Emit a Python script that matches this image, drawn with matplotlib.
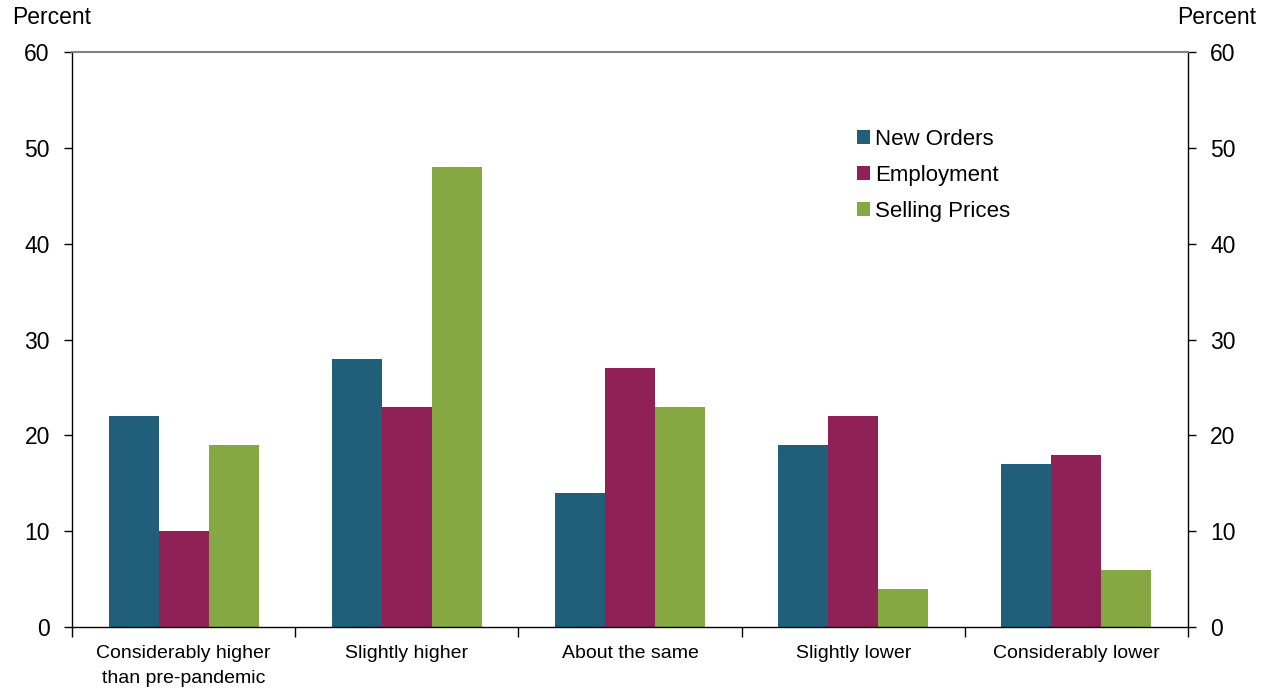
import numpy as np
import matplotlib.pyplot as plt

categories = ['Considerably higher\nthan pre-pandemic', 'Slightly higher', 'About the same',
              'Slightly lower', 'Considerably lower']
new_orders = [22, 28, 14, 19, 17]
employment = [10, 23, 27, 22, 18]
selling_prices = [19, 48, 23, 4, 6]
series_names = ['New Orders', 'Employment', 'Selling Prices']
colors = ['#215e7a', '#8f2157', '#86a843']

plt.rcParams['font.family'] = ['Liberation Sans', 'DejaVu Sans']

fig = plt.figure(figsize=(12.68, 6.91), dpi=100)
ax = fig.add_axes([72 / 1268, 1 - 627 / 691, 1116 / 1268, 575 / 691])

x = np.arange(len(categories))
w = 0.224
for i, (vals, name) in enumerate(zip([new_orders, employment, selling_prices], series_names)):
    ax.bar(x + (i - 1) * w, vals, w, color=colors[i], label=name)

ax.set_xlim(-0.5, 4.5)
ax.set_ylim(0, 60)
ax.set_yticks(range(0, 61, 10))
ax.tick_params(axis='y', labelsize=16.5, direction='out', length=6, width=1,
               left=True, right=True, labelleft=True, labelright=True, pad=10)
ax.set_xticks(x)
ax.set_xticklabels(categories, fontsize=14, linespacing=1.6)
ax.tick_params(axis='x', length=0, pad=13)
ax.set_xticks(np.arange(-0.5, 5, 1), minor=True)
ax.tick_params(axis='x', which='minor', length=7, width=1, direction='out')

for s in ['left', 'right', 'bottom']:
    ax.spines[s].set_color('black')
    ax.spines[s].set_linewidth(1)
ax.spines['top'].set_color('#808080')
ax.spines['top'].set_linewidth(1.5)

fig.text(12 / 1268, 1 - 18 / 691, 'Percent', fontsize=16.5, va='center', ha='left')
fig.text(1256 / 1268, 1 - 18 / 691, 'Percent', fontsize=16.5, va='center', ha='right')

leg = ax.legend(loc='upper left', bbox_to_anchor=(0.703, 0.866), frameon=False, fontsize=16,
                handlelength=0.6, handleheight=0.6, handletextpad=0.25, labelspacing=0.68,
                borderaxespad=0, borderpad=0)

fig.savefig('out.png', dpi=100)
